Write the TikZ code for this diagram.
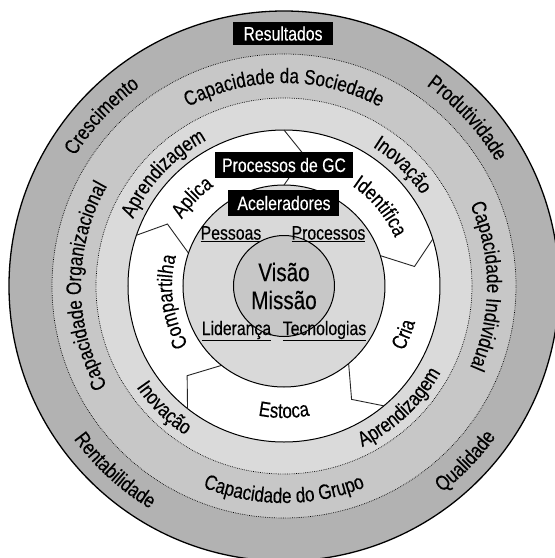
\documentclass[tikz,border=0pt]{standalone}
\usepackage{fontspec}
\setmainfont{Liberation Sans}[FakeStretch=0.81,FakeBold=0.3]
\usetikzlibrary{decorations.text}
\newcommand\rfont{\fontsize{21}{21}\selectfont}
\newcommand\bxfont{\fontsize{19.5}{19.5}\selectfont}
\newcommand\cfont{\fontsize{25.5}{28}\selectfont}
% clockwise arc text: angle, baseline radius, half span, text
\newcommand\arccw[4]{%
  \path[decorate,decoration={text along path,text align=center,text={|\rfont|#4}}]
    (#1+#3:#2pt) arc[start angle=#1+#3,end angle=#1-#3,radius=#2pt];}
% counterclockwise arc text
\newcommand\arcccw[4]{%
  \path[decorate,decoration={text along path,text align=center,text={|\rfont|#4}}]
    (#1-#3:#2pt) arc[start angle=#1-#3,end angle=#1+#3,radius=#2pt];}
\definecolor{gOne}{gray}{0.70}
\definecolor{gTwo}{gray}{0.78}
\definecolor{gThree}{gray}{0.855}
\definecolor{gAcc}{gray}{0.85}
\definecolor{gCore}{gray}{0.78}
\tikzset{
  solidring/.style={draw=black,line width=1pt},
  dotring/.style={draw=black,line width=0.7pt,dash pattern=on 0.7pt off 1.1pt},
  chev/.style={draw=black!85,line width=0.9pt,line join=miter},
  bbox/.style={fill=black,text=white,font=\bxfont,inner sep=0pt},
  ulab/.style={font=\bxfont,inner sep=0pt},
}
\begin{document}
\begin{tikzpicture}[x=1pt,y=1pt]
\useasboundingbox (-284,-272) rectangle (271,286);
% rings
\fill[gOne] (0,0) circle[radius=275pt];
\draw[line width=1.3pt] (0,0) circle[radius=275pt];
\fill[gTwo] (0,0) circle[radius=232pt];
\draw[dotring] (0,0) circle[radius=232pt];
\fill[gThree] (0,0) circle[radius=188pt];
\draw[dotring] (0,0) circle[radius=188pt];
\fill[white] (0,0) circle[radius=156pt];
\draw[solidring] (0,0) circle[radius=156pt];
% chevron dividers of the process ring
\foreach \a in {90,17.5,-50.2,-128.2,161}{
  \draw[chev] (\a:156pt) -- (\a-9:132pt) -- (\a:101pt);
}
\fill[gAcc] (0,0) circle[radius=101pt];
\draw[solidring] (0,0) circle[radius=101pt];
\fill[gCore] (0,0) circle[radius=50.5pt];
\draw[solidring] (0,0) circle[radius=50.5pt];
% outer band
\arccw{137}{246}{40}{Crescimento}
\arccw{42.5}{246}{40}{Produtividade}
\arcccw{-132.5}{260}{40}{Rentabilidade}
\arcccw{-44}{260}{40}{Qualidade}
% second band
\arccw{90}{203}{50}{Capacidade da Sociedade}
\arccw{0}{203}{50}{Capacidade Individual}
\arcccw{-90}{217}{50}{Capacidade do Grupo}
\arccw{180}{203}{50}{Capacidade Organizacional}
% third band
\arccw{137}{165}{40}{Aprendizagem}
\arccw{45.5}{165}{40}{Inovação}
\arcccw{-46.5}{179}{40}{Aprendizagem}
\arcccw{-134.5}{179}{40}{Inovação}
% process ring
\arccw{136}{122}{35}{Aplica}
\arccw{39.6}{121}{35}{Identifica}
\arcccw{-22}{136}{30}{Cria}
\arcccw{-90}{132}{30}{Estoca}
\arccw{188}{112}{45}{Compartilha}
% boxes
\node[bbox,minimum width=100pt,minimum height=23pt] (res) at (-1,252.5) {Resultados};
\node[bbox,minimum width=138pt,minimum height=26pt] (gc) at (0,121) {Processos de GC};
\node[bbox,minimum width=111pt,minimum height=26pt] (acc) at (0,83) {Aceleradores};
% accelerators
\node[ulab] (pes) at (-53,52) {\underline{Pessoas}};
\node[ulab] (pro) at (44.5,52) {\underline{Processos}};
\node[ulab] (lid) at (-47.5,-45) {\underline{Liderança}};
\node[ulab] (tec) at (40.5,-45) {\underline{Tecnologias}};
\node[font=\cfont,align=center,inner sep=0pt] (vm) at (0,0) {Visão\\Missão};
\end{tikzpicture}
\end{document}
